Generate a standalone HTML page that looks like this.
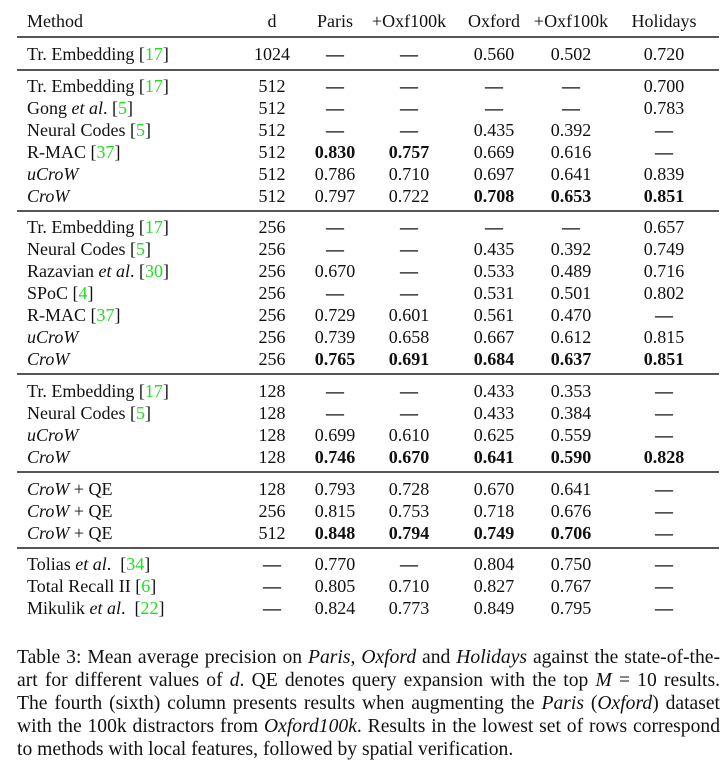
<!DOCTYPE html>
<html><head><meta charset="utf-8"><style>
body{margin:0;width:721px;height:782px;background:#fff;font-family:"Liberation Serif",serif;color:#111;position:relative;overflow:hidden}
.r{position:absolute;left:0;width:721px;height:22px;line-height:22px;font-size:18px}
.r span{position:absolute;top:0;text-align:center;white-space:nowrap}
.r span span{position:static}
.m{left:27px;text-align:left!important}
.d{left:237px;width:70px}
.c1{left:295px;width:80px}
.c2{left:369px;width:80px}
.c3{left:454px;width:80px}
.c4{left:531px;width:80px}
.c5{left:624px;width:80px}
.x{font-weight:bold}
.hl{position:absolute;left:17px;width:702px;height:2px;background:#555}
.g{color:#22dd22}
b{font-weight:bold}
.cap{position:absolute;left:17px;width:703px;font-size:19.6px;line-height:23px;text-align:justify;text-align-last:justify;white-space:nowrap}
.cap.l{text-align-last:left}
</style></head><body>
<div class="r" style="top:10px"><span class="m">Method</span><span class="d">d</span><span class="c1">Paris</span><span class="c2">+Oxf100k</span><span class="c3">Oxford</span><span class="c4">+Oxf100k</span><span class="c5">Holidays</span></div>
<div class="hl" style="top:36px"></div>
<div class="r" style="top:43px"><span class="m">Tr. Embedding [<span class="g">17</span>]</span><span class="d">1024</span><span class="c1 x">—</span><span class="c2 x">—</span><span class="c3">0.560</span><span class="c4">0.502</span><span class="c5">0.720</span></div>
<div class="hl" style="top:69px"></div>

<div class="r" style="top:75px"><span class="m">Tr. Embedding [<span class="g">17</span>]</span><span class="d">512</span><span class="c1 x">—</span><span class="c2 x">—</span><span class="c3 x">—</span><span class="c4 x">—</span><span class="c5">0.700</span></div>
<div class="r" style="top:97px"><span class="m">Gong <i>et al</i>. [<span class="g">5</span>]</span><span class="d">512</span><span class="c1 x">—</span><span class="c2 x">—</span><span class="c3 x">—</span><span class="c4 x">—</span><span class="c5">0.783</span></div>
<div class="r" style="top:119px"><span class="m">Neural Codes [<span class="g">5</span>]</span><span class="d">512</span><span class="c1 x">—</span><span class="c2 x">—</span><span class="c3">0.435</span><span class="c4">0.392</span><span class="c5 x">—</span></div>
<div class="r" style="top:141px"><span class="m">R-MAC [<span class="g">37</span>]</span><span class="d">512</span><span class="c1"><b>0.830</b></span><span class="c2"><b>0.757</b></span><span class="c3">0.669</span><span class="c4">0.616</span><span class="c5 x">—</span></div>
<div class="r" style="top:163px"><span class="m"><i>uCroW</i></span><span class="d">512</span><span class="c1">0.786</span><span class="c2">0.710</span><span class="c3">0.697</span><span class="c4">0.641</span><span class="c5">0.839</span></div>
<div class="r" style="top:185px"><span class="m"><i>CroW</i></span><span class="d">512</span><span class="c1">0.797</span><span class="c2">0.722</span><span class="c3"><b>0.708</b></span><span class="c4"><b>0.653</b></span><span class="c5"><b>0.851</b></span></div>
<div class="hl" style="top:210px"></div>

<div class="r" style="top:216px"><span class="m">Tr. Embedding [<span class="g">17</span>]</span><span class="d">256</span><span class="c1 x">—</span><span class="c2 x">—</span><span class="c3 x">—</span><span class="c4 x">—</span><span class="c5">0.657</span></div>
<div class="r" style="top:238px"><span class="m">Neural Codes [<span class="g">5</span>]</span><span class="d">256</span><span class="c1 x">—</span><span class="c2 x">—</span><span class="c3">0.435</span><span class="c4">0.392</span><span class="c5">0.749</span></div>
<div class="r" style="top:260px"><span class="m">Razavian <i>et al</i>. [<span class="g">30</span>]</span><span class="d">256</span><span class="c1">0.670</span><span class="c2 x">—</span><span class="c3">0.533</span><span class="c4">0.489</span><span class="c5">0.716</span></div>
<div class="r" style="top:282px"><span class="m">SPoC [<span class="g">4</span>]</span><span class="d">256</span><span class="c1 x">—</span><span class="c2 x">—</span><span class="c3">0.531</span><span class="c4">0.501</span><span class="c5">0.802</span></div>
<div class="r" style="top:304px"><span class="m">R-MAC [<span class="g">37</span>]</span><span class="d">256</span><span class="c1">0.729</span><span class="c2">0.601</span><span class="c3">0.561</span><span class="c4">0.470</span><span class="c5 x">—</span></div>
<div class="r" style="top:326px"><span class="m"><i>uCroW</i></span><span class="d">256</span><span class="c1">0.739</span><span class="c2">0.658</span><span class="c3">0.667</span><span class="c4">0.612</span><span class="c5">0.815</span></div>
<div class="r" style="top:348px"><span class="m"><i>CroW</i></span><span class="d">256</span><span class="c1"><b>0.765</b></span><span class="c2"><b>0.691</b></span><span class="c3"><b>0.684</b></span><span class="c4"><b>0.637</b></span><span class="c5"><b>0.851</b></span></div>
<div class="hl" style="top:373px"></div>

<div class="r" style="top:380px"><span class="m">Tr. Embedding [<span class="g">17</span>]</span><span class="d">128</span><span class="c1 x">—</span><span class="c2 x">—</span><span class="c3">0.433</span><span class="c4">0.353</span><span class="c5 x">—</span></div>
<div class="r" style="top:402px"><span class="m">Neural Codes [<span class="g">5</span>]</span><span class="d">128</span><span class="c1 x">—</span><span class="c2 x">—</span><span class="c3">0.433</span><span class="c4">0.384</span><span class="c5 x">—</span></div>
<div class="r" style="top:424px"><span class="m"><i>uCroW</i></span><span class="d">128</span><span class="c1">0.699</span><span class="c2">0.610</span><span class="c3">0.625</span><span class="c4">0.559</span><span class="c5 x">—</span></div>
<div class="r" style="top:446px"><span class="m"><i>CroW</i></span><span class="d">128</span><span class="c1"><b>0.746</b></span><span class="c2"><b>0.670</b></span><span class="c3"><b>0.641</b></span><span class="c4"><b>0.590</b></span><span class="c5"><b>0.828</b></span></div>
<div class="hl" style="top:471px"></div>

<div class="r" style="top:478px"><span class="m"><i>CroW</i> + QE</span><span class="d">128</span><span class="c1">0.793</span><span class="c2">0.728</span><span class="c3">0.670</span><span class="c4">0.641</span><span class="c5 x">—</span></div>
<div class="r" style="top:500px"><span class="m"><i>CroW</i> + QE</span><span class="d">256</span><span class="c1">0.815</span><span class="c2">0.753</span><span class="c3">0.718</span><span class="c4">0.676</span><span class="c5 x">—</span></div>
<div class="r" style="top:522px"><span class="m"><i>CroW</i> + QE</span><span class="d">512</span><span class="c1"><b>0.848</b></span><span class="c2"><b>0.794</b></span><span class="c3"><b>0.749</b></span><span class="c4"><b>0.706</b></span><span class="c5 x">—</span></div>
<div class="hl" style="top:547px"></div>

<div class="r" style="top:553px"><span class="m">Tolias <i>et al</i>. &nbsp;[<span class="g">34</span>]</span><span class="d x">—</span><span class="c1">0.770</span><span class="c2 x">—</span><span class="c3">0.804</span><span class="c4">0.750</span><span class="c5 x">—</span></div>
<div class="r" style="top:575px"><span class="m">Total Recall II [<span class="g">6</span>]</span><span class="d x">—</span><span class="c1">0.805</span><span class="c2">0.710</span><span class="c3">0.827</span><span class="c4">0.767</span><span class="c5 x">—</span></div>
<div class="r" style="top:597px"><span class="m">Mikulik <i>et al</i>. &nbsp;[<span class="g">22</span>]</span><span class="d x">—</span><span class="c1">0.824</span><span class="c2">0.773</span><span class="c3">0.849</span><span class="c4">0.795</span><span class="c5 x">—</span></div>

<div class="cap" style="top:646px">Table 3: Mean average precision on <i>Paris</i>, <i>Oxford</i> and <i>Holidays</i> against the state-of-the-</div>
<div class="cap" style="top:669px">art for different values of <i>d</i>. QE denotes query expansion with the top <i>M</i> = 10 results.</div>
<div class="cap" style="top:692px">The fourth (sixth) column presents results when augmenting the <i>Paris</i> (<i>Oxford</i>) dataset</div>
<div class="cap" style="top:715px">with the 100k distractors from <i>Oxford100k</i>. Results in the lowest set of rows correspond</div>
<div class="cap l" style="top:738px">to methods with local features, followed by spatial verification.</div>
</body></html>
